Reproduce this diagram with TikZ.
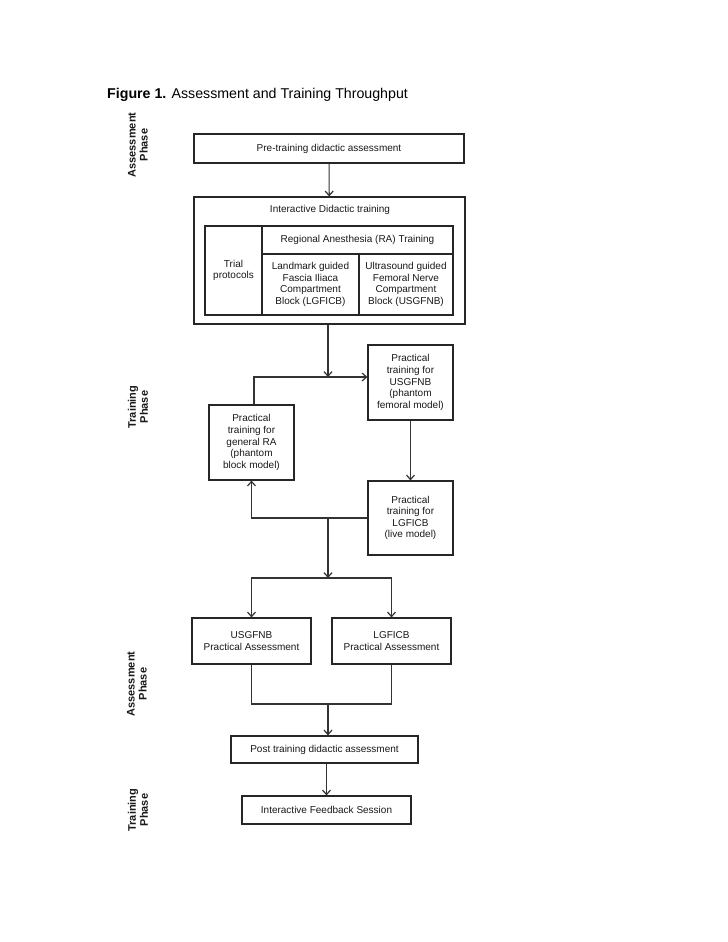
\documentclass[tikz,border=0pt]{standalone}
\usepackage{fontspec}
\setmainfont{Liberation Sans}
\usetikzlibrary{arrows.meta}
\tikzset{
  box/.style={draw=black!85, line width=1.1bp, inner sep=0pt, align=center, font=\fontsize{10bp}{11.6bp}\selectfont, text=black!90},
  plain/.style={inner sep=0pt, align=center, font=\fontsize{10bp}{11.6bp}\selectfont, text=black!90},
  phase/.style={inner sep=0pt, align=center, rotate=90, font=\fontsize{11bp}{12bp}\selectfont\bfseries, text=black!90},
  conn/.style={draw=black!80, line width=1.1bp},
  arr/.style={conn, -{Straight Barb[length=4.5bp,width=8bp,line width=1.2bp]}}
}
\begin{document}
\begin{tikzpicture}[x=1bp,y=-1bp]
\useasboundingbox[fill=white] (0,0) rectangle (728,942);

% title
\node[anchor=base west, inner sep=0pt, font=\fontsize{14.2bp}{16bp}\selectfont] (title) at (107,98) {\textbf{Figure 1.} Assessment and Training Throughput};

% phase labels
\node[phase] (ph1) at (138,145) {Assessment\\Phase};
\node[phase] (ph2) at (138,407) {Training\\Phase};
\node[phase] (ph3) at (137,684) {Assessment\\Phase};
\node[phase] (ph4) at (138,810) {Training\\Phase};

% boxes
\node[box, minimum width=270bp, minimum height=29bp] (pre) at (329,148.5) {Pre-training didactic assessment};
\node[box, minimum width=271bp, minimum height=127bp] (did) at (329.5,260.5) {};
\node[plain] (didt) at (330,210) {Interactive Didactic training};
\node[box, minimum width=57bp, minimum height=89bp] (trial) at (233.5,270.5) {Trial\\protocols};
\node[box, minimum width=191bp, minimum height=28bp] (ra) at (357.5,240) {Regional Anesthesia (RA) Training};
\node[box, minimum width=97bp, minimum height=61bp] (lgc) at (310.5,284.5) {Landmark guided\\Fascia Iliaca\\Compartment\\Block (LGFICB)};
\node[box, minimum width=94bp, minimum height=61bp] (usc) at (406,284.5) {Ultrasound guided\\Femoral Nerve\\Compartment\\Block (USGFNB)};

\node[box, minimum width=85bp, minimum height=75bp] (pus) at (410.5,382.5) {Practical\\training for\\USGFNB\\(phantom\\femoral model)};
\node[box, minimum width=85bp, minimum height=75bp] (pgen) at (251.5,442.5) {Practical\\training for\\general RA\\(phantom\\block model)};
\node[box, minimum width=85bp, minimum height=74bp] (plg) at (410.5,518) {Practical\\training for\\LGFICB\\(live model)};

\node[box, minimum width=119bp, minimum height=46bp] (aus) at (251.5,641) {USGFNB\\Practical Assessment};
\node[box, minimum width=119bp, minimum height=46bp] (alg) at (391.5,641) {LGFICB\\Practical Assessment};

\node[box, minimum width=187bp, minimum height=27bp] (post) at (324.5,749.5) {Post training didactic assessment};
\node[box, minimum width=169bp, minimum height=28bp] (fb) at (326.5,810) {Interactive Feedback Session};

% junction coordinates
\coordinate (j1) at (328,377);
\coordinate (j1l) at (254,377);
\coordinate (j2) at (328,518);
\coordinate (j3) at (328,578);
\coordinate (j4) at (328,704);

% connectors
\draw[arr] (pre) -- (did);
\draw[arr] (did.south -| j1) -- (j1);
\draw[arr] (pgen.north -| j1l) -- (j1l) -- (j1l -| pus.west);
\draw[arr] (pus) -- (plg);
\draw[arr] (plg.west) -| (pgen.south);
\draw[arr] (j2) -- (j3);
\draw[arr] (j3) -| (aus.north);
\draw[arr] (j3) -| (alg.north);
\draw[conn] (aus.south) -- (aus.south |- j4) -- (alg.south |- j4) -- (alg.south);
\draw[arr] (j4) -- (j4 |- post.north);
\draw[arr] (post.south -| fb.north) -- (fb.north);
\end{tikzpicture}
\end{document}
